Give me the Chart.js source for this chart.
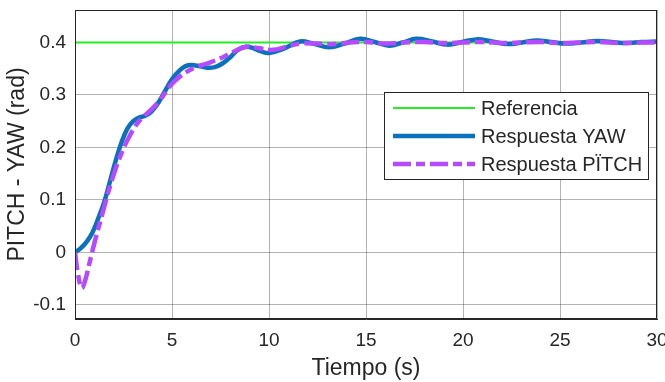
<!DOCTYPE html>
<html>
<head>
<meta charset="utf-8">
<script src="https://cdn.jsdelivr.net/npm/chart.js@4"></script>
<style>
  html, body { margin: 0; padding: 0; background: #fff; }
  #wrap { width: 665px; height: 382px; position: relative; }
</style>
</head>
<body>
<div id="wrap"><canvas id="c"></canvas></div>
<script>
// Reference / YAW / PITCH step responses
const xTicks = [0, 5, 10, 15, 20, 25, 30];
const yTicks = [-0.1, 0, 0.1, 0.2, 0.3, 0.4];

const refT = [0, 30];
const refV = [0.4, 0.4];

const yawT = [0, 0.3, 0.6, 0.9, 1.2, 1.5, 1.8, 2.1, 2.4, 2.7, 3.0, 3.3, 3.6, 3.9, 4.2, 4.5, 4.8,
              5.1, 5.4, 5.7, 6.0, 6.4, 6.8, 7.2, 7.6, 8.0, 8.4, 8.8, 9.2, 9.6,
              10.0, 10.8, 11.6, 12.35, 13.1, 13.9, 14.7, 15.45, 16.2, 16.9, 17.6, 18.4, 19.2, 19.95,
              20.7, 21.5, 22.3, 23.05, 23.8, 24.55, 25.3, 26.1, 26.9, 27.65, 28.4, 29.2, 30.0];
const yawV = [0, 0.008, 0.02, 0.038, 0.065, 0.095, 0.135, 0.175, 0.21, 0.236, 0.25, 0.257, 0.26, 0.267, 0.28, 0.298, 0.318,
              0.335, 0.347, 0.355, 0.357, 0.355, 0.352, 0.353, 0.36, 0.372, 0.386, 0.392, 0.389, 0.383,
              0.380, 0.389, 0.402, 0.397, 0.391, 0.398, 0.407, 0.401, 0.394, 0.400, 0.407, 0.402, 0.396, 0.401,
              0.406, 0.402, 0.397, 0.400, 0.404, 0.401, 0.398, 0.400, 0.403, 0.401, 0.399, 0.401, 0.402];

const pitchT = [0, 0.15, 0.35, 0.55, 0.8, 1.1, 1.4, 1.8, 2.3, 2.8, 3.3, 3.9, 4.4, 4.9, 5.4, 6.1, 6.8, 7.5,
                8.2, 8.85, 9.5, 10.2, 10.9, 11.6, 12.5, 13.3, 14.2, 15.0, 16.0, 17.0, 18.0, 19.0,
                20.0, 21.0, 22.0, 23.0, 24.0, 25.0, 26.0, 27.0, 28.0, 29.0, 30.0];
const pitchV = [0, -0.04, -0.068, -0.05, -0.012, 0.032, 0.072, 0.125, 0.18, 0.221, 0.25, 0.271, 0.291, 0.317, 0.335, 0.351, 0.36, 0.37,
                0.383, 0.392, 0.389, 0.386, 0.392, 0.398, 0.398, 0.397, 0.400, 0.401, 0.398, 0.400, 0.401, 0.399,
                0.400, 0.401, 0.399, 0.400, 0.401, 0.399, 0.400, 0.401, 0.399, 0.400, 0.400];

const legendLabels = ['Referencia', 'Respuesta YAW', 'Respuesta PÏTCH'];

const pts = (t, v) => t.map((x, i) => ({ x: x, y: v[i] }));
const FONT = '"Liberation Sans", Arial, sans-serif';
const TXT  = '#262626';

// box around the axes (MATLAB "box on")
const boxPlugin = {
    id: 'box',
    afterDraw(chart) {
        const a = chart.chartArea, ctx = chart.ctx;
        ctx.save();
        ctx.strokeStyle = '#262626';
        ctx.lineWidth = 1;
        ctx.strokeRect(a.left + 0.5, a.top + 0.5, a.right - a.left - 1, a.bottom - a.top - 1);
        ctx.restore();
    }
};

// legend drawn inside the plot, upper right
const insideLegend = {
    id: 'insideLegend',
    afterDraw(chart) {
        const ctx = chart.ctx;
        const bx = 384, by = 92, bw = 264, bh = 87;
        ctx.save();
        ctx.fillStyle = '#fff';
        ctx.fillRect(bx, by, bw, bh);
        ctx.strokeStyle = '#262626';
        ctx.lineWidth = 1;
        ctx.strokeRect(bx + 0.5, by + 0.5, bw, bh);
        const rows = [108, 136, 164];
        chart.data.datasets.forEach((ds, i) => {
            const y = rows[i];
            ctx.beginPath();
            ctx.strokeStyle = ds.borderColor;
            ctx.lineWidth = ds.borderWidth;
            ctx.setLineDash(ds.borderDash || []);
            ctx.moveTo(393, y);
            ctx.lineTo(475, y);
            ctx.stroke();
            ctx.setLineDash([]);
            ctx.fillStyle = TXT;
            ctx.font = '20px ' + FONT;
            ctx.textBaseline = 'middle';
            ctx.fillText(legendLabels[i], 481, y + 1);
        });
        ctx.restore();
    }
};

new Chart(document.getElementById('c'), {
    type: 'line',
    data: {
        datasets: [
            { label: legendLabels[0], data: pts(refT, refV), borderColor: '#22ee22', borderWidth: 2,
              pointRadius: 0, tension: 0, order: 2 },
            { label: legendLabels[1], data: pts(yawT, yawV), borderColor: '#0a72bd', borderWidth: 4.5,
              pointRadius: 0, tension: 0.4, order: 1 },
            { label: legendLabels[2], data: pts(pitchT, pitchV), borderColor: '#b54aff', borderWidth: 4.5,
              borderDash: [18, 5, 9, 5], pointRadius: 0, tension: 0.4, order: 0 },
        ],
    },
    options: {
        responsive: true,
        maintainAspectRatio: false,
        animation: false,
        layout: { padding: { top: 10, right: 8, left: 0, bottom: 0 } },
        plugins: { legend: { display: false }, tooltip: { enabled: false } },
        scales: {
            x: {
                type: 'linear', min: 0, max: 30,
                afterBuildTicks: s => { s.ticks = xTicks.map(v => ({ value: v })); },
                afterFit: s => { s.height = 63; s.paddingLeft = 0; s.paddingRight = 0; },
                grid: { color: 'rgba(0,0,0,0.3)', drawTicks: false },
                border: { color: '#262626' },
                ticks: { color: TXT, font: { family: FONT, size: 19 }, padding: 10, maxRotation: 0 },
                title: { display: true, text: 'Tiempo (s)', color: TXT, font: { family: FONT, size: 23 },
                         padding: { top: 1, bottom: 0 } },
            },
            y: {
                type: 'linear', min: -0.127, max: 0.462,
                afterBuildTicks: s => { s.ticks = yTicks.map(v => ({ value: v })); },
                afterFit: s => { s.width = 75; s.paddingTop = 0; s.paddingBottom = 0; },
                grid: { color: 'rgba(0,0,0,0.3)', drawTicks: false },
                border: { color: '#262626' },
                ticks: { color: TXT, font: { family: FONT, size: 19 }, padding: 9,
                         callback: v => String(Math.round(v * 10) / 10) },
                title: { display: true, text: 'PITCH - YAW (rad)', color: TXT, font: { family: FONT, size: 23 },
                         padding: { top: 4, bottom: 0 } },
            },
        },
    },
    plugins: [boxPlugin, insideLegend],
});
</script>
</body>
</html>
